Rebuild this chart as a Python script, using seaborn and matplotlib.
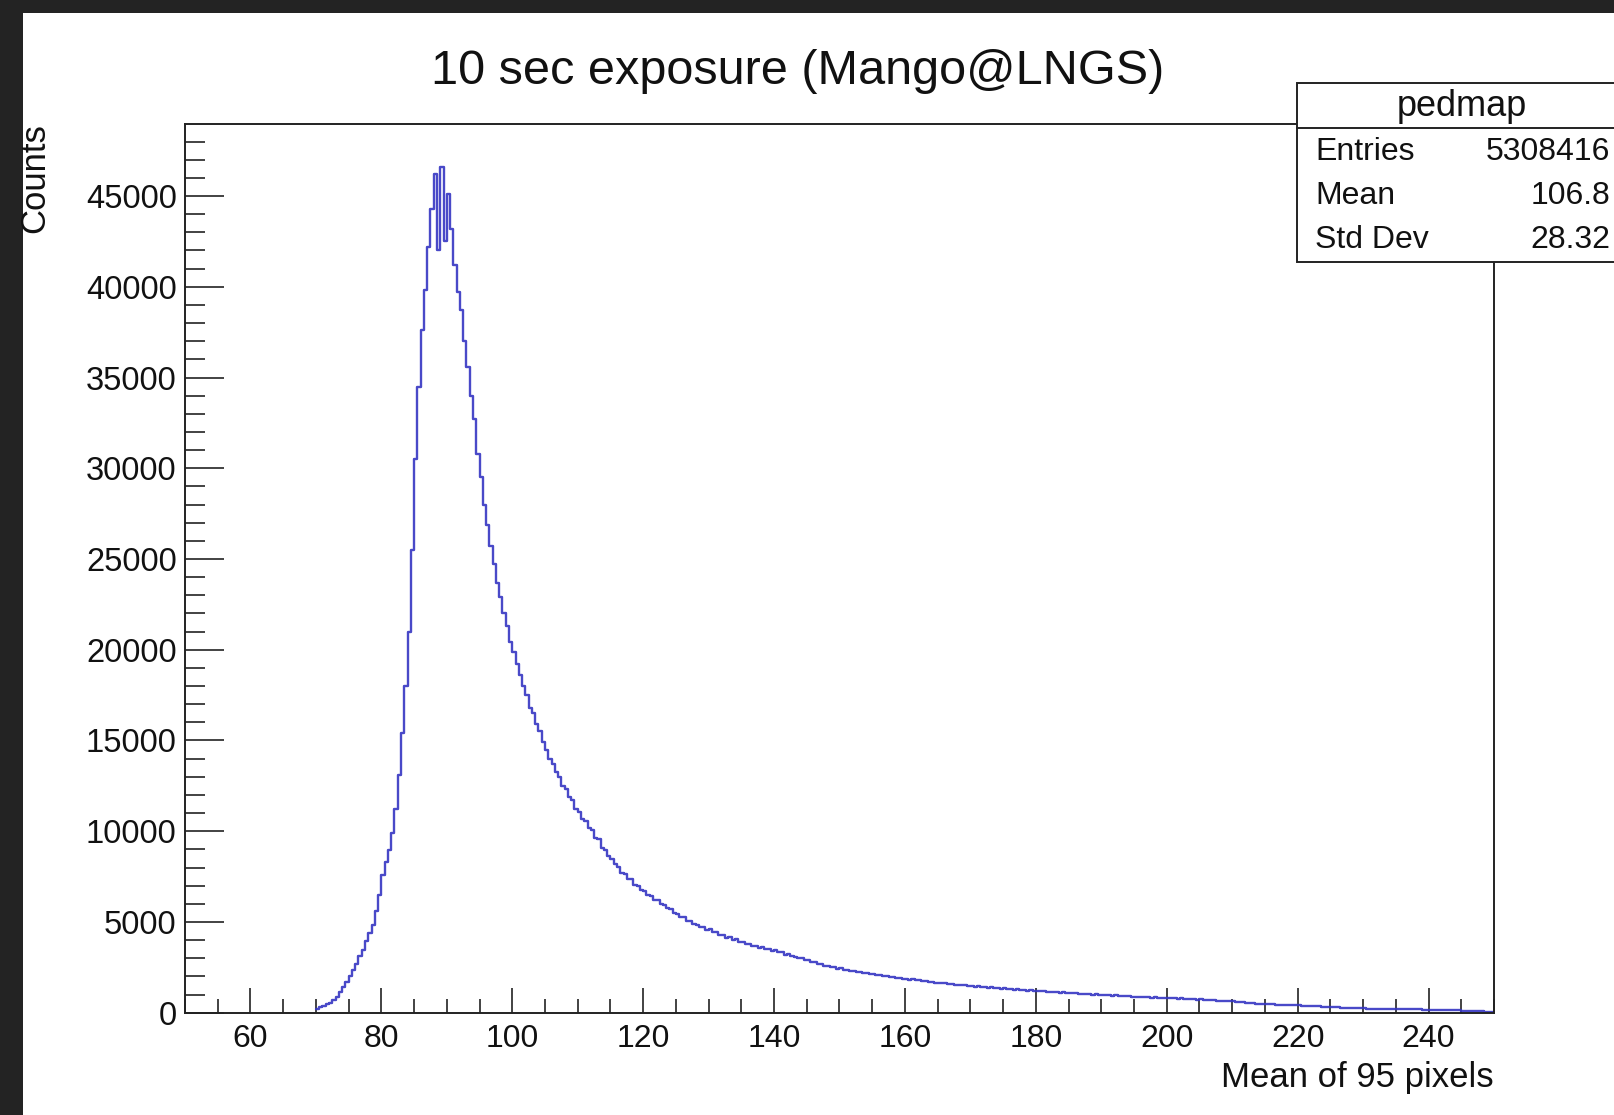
import numpy as np
import pandas as pd
import matplotlib
matplotlib.use("Agg")
import matplotlib.pyplot as plt
from matplotlib.patches import Rectangle
from matplotlib.lines import Line2D
from matplotlib.ticker import MultipleLocator
import seaborn as sns

# histogram "pedmap": bins of 0.5 starting at 70, counts
bin_start = 70.0
bin_width = 0.5
counts = [
    230, 300, 370, 470, 560, 700, 880, 1120, 1430, 1700,                    # 70
    2000, 2380, 2700, 3150, 3480, 3950, 4400, 4850, 5600, 6500,             # 75
    7600, 8300, 8950, 9900, 11200, 13100, 15400, 18000, 21000, 25500,       # 80
    30500, 34500, 37600, 39800, 42200, 44300, 46200, 42000, 46600, 42500,   # 85
    45100, 43200, 41200, 39700, 38700, 37000, 35600, 34000, 32700, 30800,   # 90
    29500, 28000, 26900, 25700, 24700, 23700, 22900, 22000, 21300, 20400,   # 95
    19900, 19200, 18600, 18000, 17500, 16800, 16500, 15900, 15500, 14900,   # 100
    14500, 14000, 13700, 13250, 13000, 12500, 12300, 11900, 11700, 11200,   # 105
    11050, 10650, 10550, 10150, 10050, 9650, 9550, 9100, 8950, 8650,        # 110
    8450, 8200, 8050, 7700, 7650, 7350, 7350, 7050, 7000, 6750,             # 115
    6700, 6500, 6450, 6200, 6200, 6000, 5950, 5750, 5700, 5500,             # 120
    5450, 5280, 5250, 5050, 5050, 4870, 4850, 4700, 4700, 4550,             # 125
    4600, 4420, 4450, 4270, 4290, 4140, 4150, 4020, 4040, 3900,             # 130
    3910, 3770, 3800, 3680, 3700, 3580, 3610, 3500, 3520, 3420,             # 135
    3440, 3330, 3330, 3200, 3210, 3100, 3090, 2990, 3000, 2880,             # 140
    2890, 2790, 2790, 2690, 2680, 2600, 2590, 2510, 2500, 2430,             # 145
    2440, 2370, 2370, 2300, 2300, 2240, 2230, 2170, 2180, 2110,             # 150
    2120, 2060, 2060, 2000, 2010, 1950, 1960, 1900, 1910, 1860,             # 155
    1880, 1820, 1830, 1780, 1780, 1730, 1740, 1690, 1700, 1650,             # 160
    1660, 1610, 1630, 1580, 1590, 1540, 1550, 1510, 1520, 1470,             # 165
    1480, 1440, 1450, 1410, 1420, 1380, 1390, 1350, 1360, 1320,             # 170
    1340, 1290, 1310, 1270, 1280, 1240, 1260, 1220, 1230, 1190,             # 175
    1210, 1170, 1190, 1150, 1160, 1130, 1140, 1110, 1120, 1080,             # 180
    1100, 1060, 1070, 1040, 1050, 1020, 1030, 1000, 1010, 980,              # 185
    990, 960, 975, 940, 950, 920, 930, 900, 910, 880,                       # 190
    890, 860, 870, 845, 855, 835, 845, 820, 835, 815,                       # 195
    825, 800, 810, 780, 790, 765, 770, 745, 750, 725,                       # 200
    730, 705, 710, 685, 690, 665, 670, 645, 650, 630,                       # 205
    635, 600, 600, 565, 560, 530, 520, 500, 495, 480,                       # 210
    475, 460, 455, 445, 445, 435, 435, 425, 425, 415,                       # 215
    410, 395, 395, 375, 370, 355, 350, 340, 335, 325,                       # 220
    320, 305, 300, 285, 280, 265, 260, 250, 245, 240,                       # 225
    235, 230, 225, 220, 215, 210, 205, 200, 200, 195,                       # 230
    195, 190, 190, 185, 185, 180, 180, 178, 176, 175,                       # 235
    170, 165, 160, 155, 150, 145, 140, 135, 130, 125,                       # 240
    120, 110, 100, 95, 90, 80, 70, 65, 55, 50,                              # 245
]

x_ticks = [60, 80, 100, 120, 140, 160, 180, 200, 220, 240]
y_ticks = [0, 5000, 10000, 15000, 20000, 25000, 30000, 35000, 40000, 45000]

stat_title = "pedmap"
stat_names = ["Entries", "Mean", "Std Dev"]
stat_values = ["5308416", "106.8", "28.32"]

title = "10 sec exposure (Mango@LNGS)"
x_label = "Mean of 95 pixels"
y_label = "Counts"

sns.set_theme(style="white")
plt.rcParams["font.family"] = ["Liberation Sans", "DejaVu Sans"]

W, H = 1615, 1115
fig = plt.figure(figsize=(W / 100, H / 100), dpi=100)
fig.patch.set_facecolor("#232323")

# white canvas panel inside the dark screenshot border
fig.add_artist(Rectangle((23 / W, 0), 1 - 23 / W, 1 - 13 / H, transform=fig.transFigure,
                         facecolor="white", edgecolor="none", zorder=-10))

ax = fig.add_axes([185 / W, 1 - 1012.7 / H, (1494 - 185) / W, (1012.7 - 124) / H])
ax.set_facecolor("white")

n_bins = len(counts)
df = pd.DataFrame({"x": bin_start + bin_width * (np.arange(n_bins) + 0.5), "n": counts})
sns.histplot(data=df, x="x", weights="n", binwidth=bin_width,
             binrange=(bin_start, bin_start + bin_width * n_bins),
             element="step", fill=False, color="#3535c2", linewidth=1.7, alpha=0.9, ax=ax)

ax.set_xlim(50, 250)
ax.set_ylim(0, 48970)
ax.set_xticks(x_ticks)
ax.set_yticks(y_ticks)
ax.xaxis.set_minor_locator(MultipleLocator(5))
ax.yaxis.set_minor_locator(MultipleLocator(1000))
ax.tick_params(axis="x", which="major", direction="in", length=18, width=1.2,
               color="#222222", labelsize=23, pad=8, bottom=True, top=False)
ax.tick_params(axis="x", which="minor", direction="in", length=10, width=1.2,
               color="#222222", bottom=True, top=False)
ax.tick_params(axis="y", which="major", direction="in", length=28, width=1.2,
               color="#222222", labelsize=23.5, pad=6, left=True, right=False)
ax.tick_params(axis="y", which="minor", direction="in", length=14.5, width=1.2,
               color="#222222", left=True, right=False)
for s in ax.spines.values():
    s.set_color("#222222")
    s.set_linewidth(1.4)
ax.set_xlabel("")
ax.set_ylabel("")
for lab in ax.get_xticklabels() + ax.get_yticklabels():
    lab.set_color("#111111")

fig.text(798 / W, 1 - 72 / H, title, ha="center", va="center", fontsize=35, color="#111111")
fig.text(1494 / W, 1 - 1087 / H, x_label, ha="right", va="baseline", fontsize=25, color="#111111")
fig.text(35 / W, 1 - 123 / H, y_label, ha="center", va="top", rotation=90, fontsize=25,
         color="#111111")

# stats box (extends past the right edge like the screenshot)
bx0, by0, by1 = 1297, 83, 262
fig.add_artist(Rectangle((bx0 / W, 1 - by1 / H), (1660 - bx0) / W, (by1 - by0) / H,
                         transform=fig.transFigure, facecolor="white", edgecolor="#222222",
                         linewidth=1.4, zorder=5))
fig.add_artist(Line2D([bx0 / W, 1], [1 - 128.3 / H] * 2, transform=fig.transFigure,
                      color="#222222", linewidth=1.4, zorder=6))
fig.text(1462 / W, 1 - 106 / H, stat_title, ha="center", va="center", fontsize=26,
         color="#111111", zorder=7)
for i, (name, val) in enumerate(zip(stat_names, stat_values)):
    yy = 1 - (152 + 44.2 * i) / H
    fig.text(1315 / W, yy, name, ha="left", va="center", fontsize=23, color="#111111", zorder=7)
    fig.text(1610 / W, yy, val, ha="right", va="center", fontsize=23, color="#111111", zorder=7)

fig.savefig("out.png", dpi=100, facecolor=fig.get_facecolor())
